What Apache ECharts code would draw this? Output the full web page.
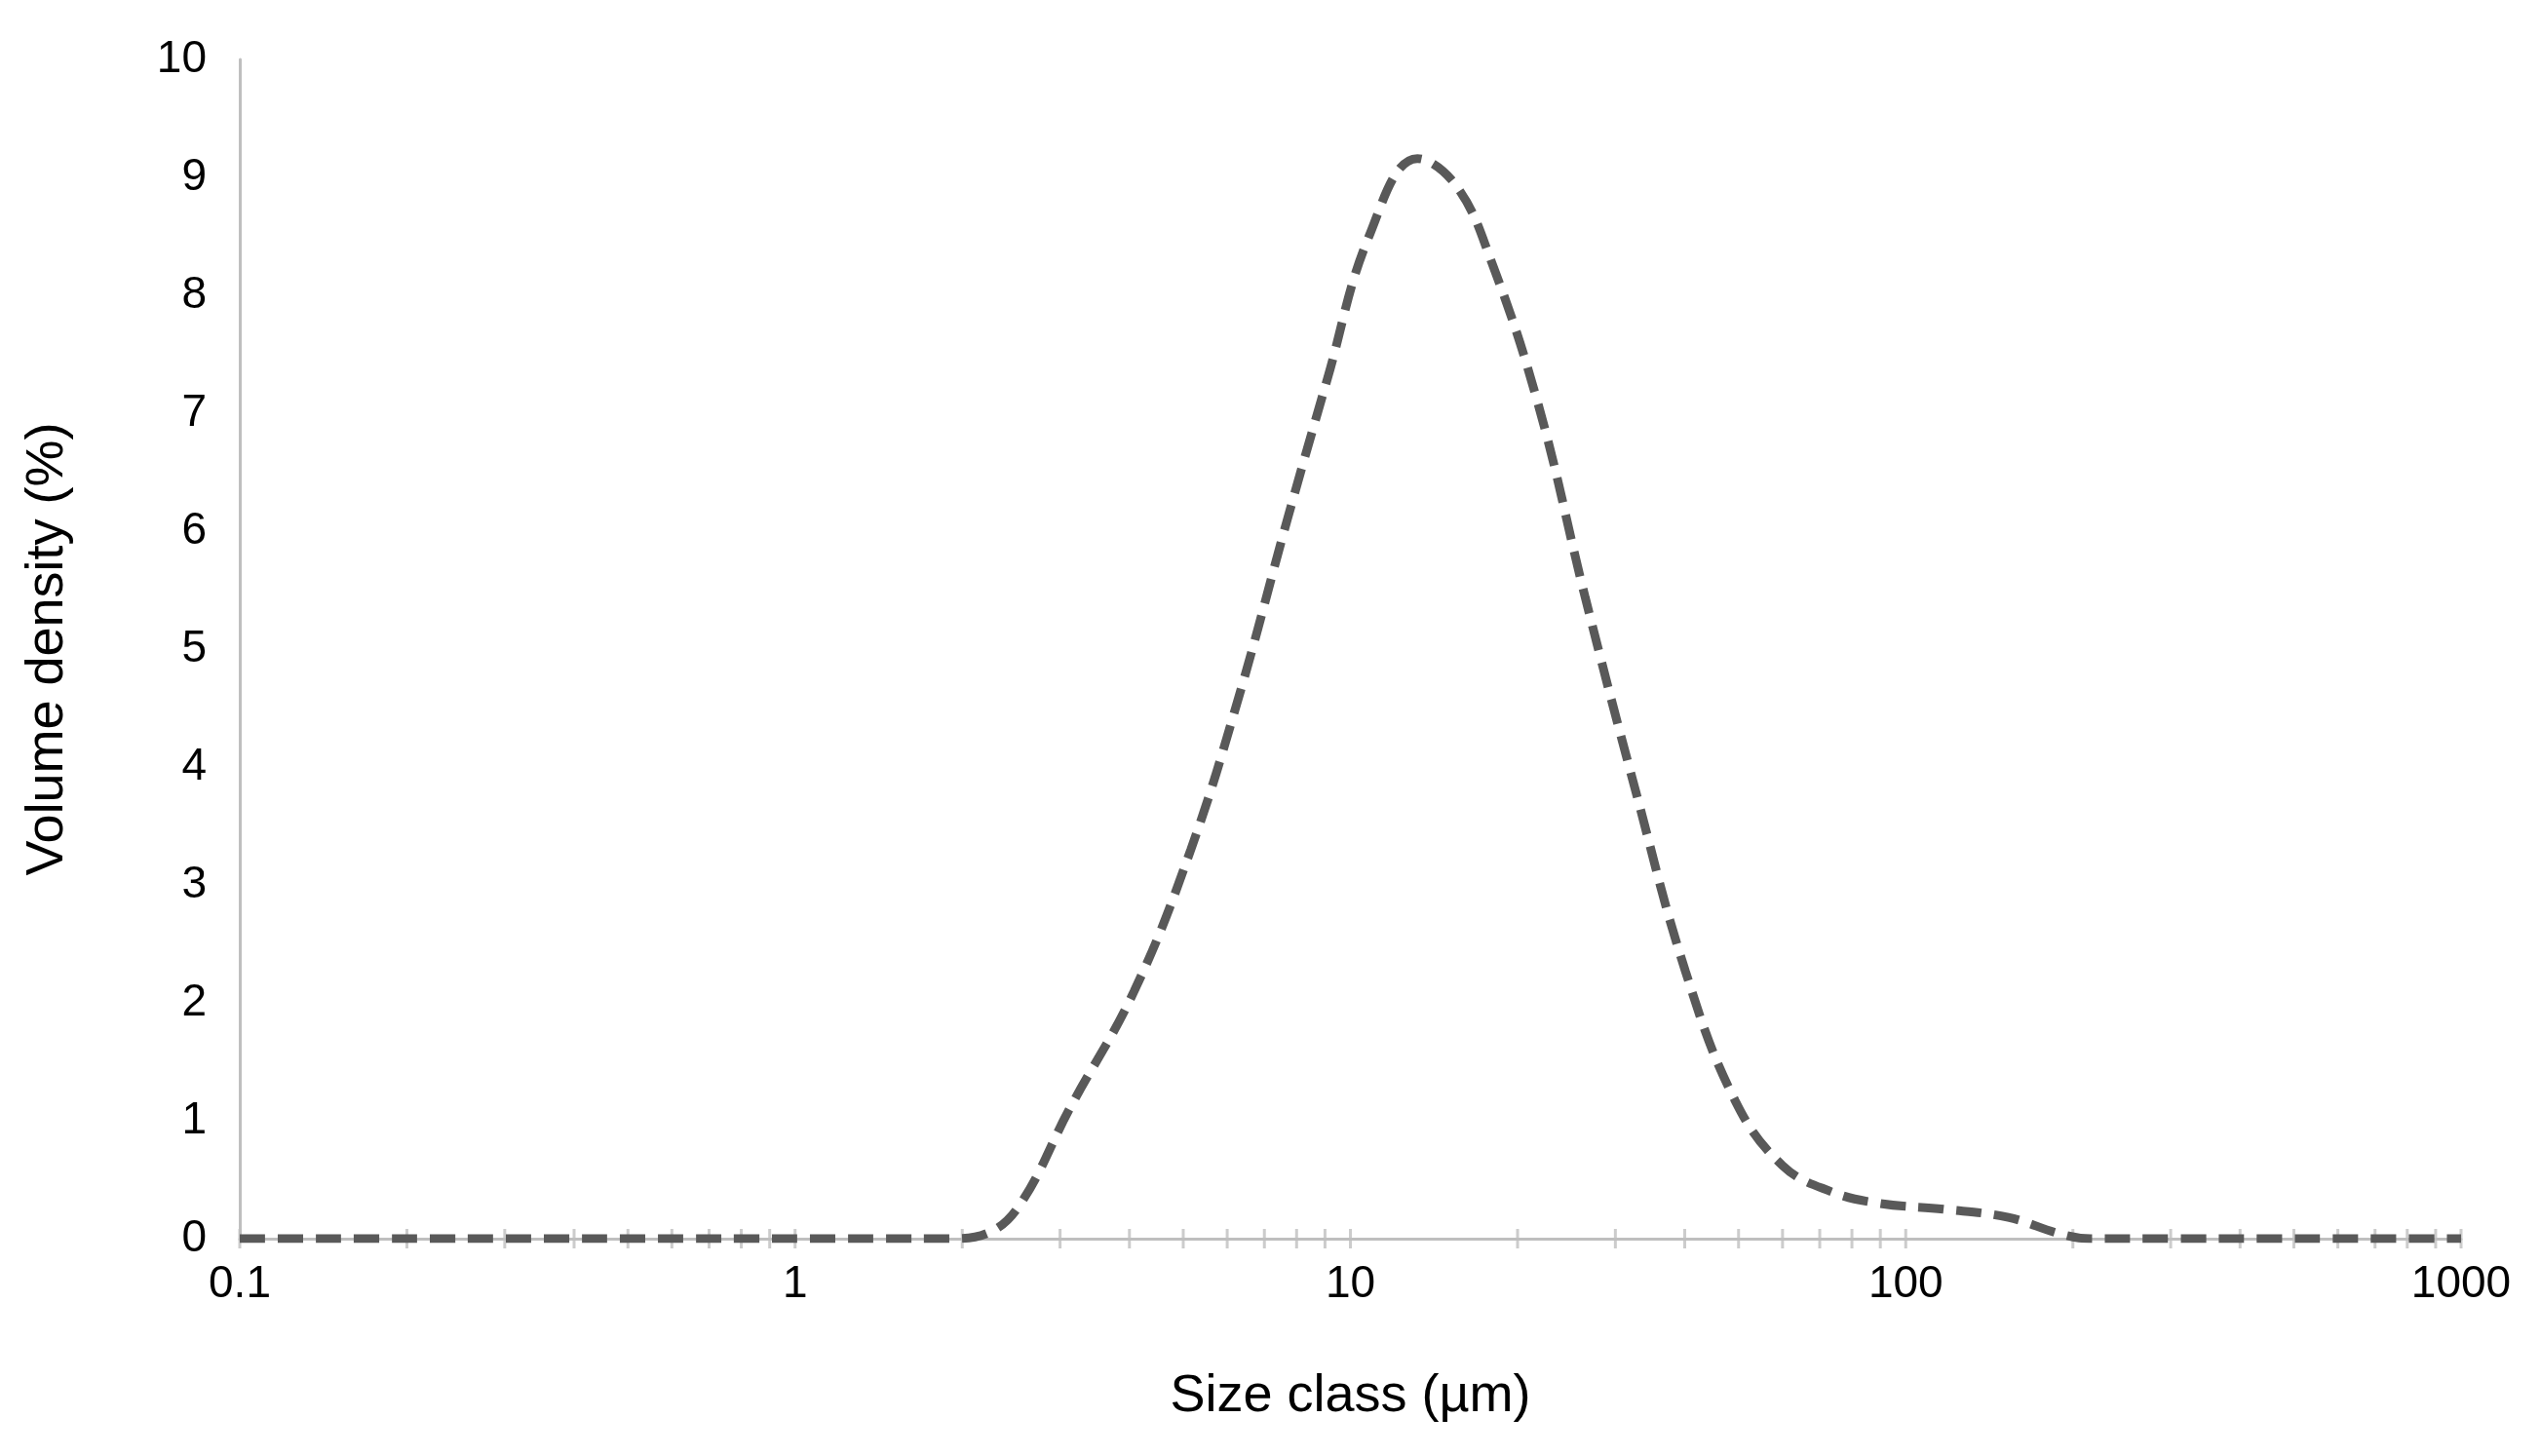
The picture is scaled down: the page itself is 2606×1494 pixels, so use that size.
<!DOCTYPE html>
<html><head><meta charset="utf-8">
<script src="https://cdn.jsdelivr.net/npm/echarts@6/dist/echarts.min.js"></script>
<style>html,body{margin:0;padding:0;background:#fff}#c{width:2606px;height:1494px}</style>
</head><body><div id="c"></div>
<script>
const sizes = [0.1,0.13,0.17,0.22,0.29,0.38,0.5,0.65,0.85,1.1,1.45,1.9,2.23,2.55,3.12,4.08,5.16,6.3,7.7,9.1,10.8,13.2,15.5,17.9,21.8,26.5,32.7,40.1,49.3,60,73.3,89.4,117,153,190,215,300,450,650,1000];
const density = [0,0,0,0,0,0,0,0,0,0,0,0,0.05,0.3,1.1,2.1,3.3,4.6,6.1,7.3,8.5,9.16,8.93,8.3,7.07,5.43,3.78,2.27,1.17,0.62,0.4,0.3,0.25,0.18,0.04,0,0,0,0,0];
const tickValues = [0.1,0.2,0.3,0.4,0.5,0.6,0.7,0.8,0.9,1,2,3,4,5,6,7,8,9,10,20,30,40,50,60,70,80,90,100,200,300,400,500,600,700,800,900,1000];
const font = 'Liberation Sans, Arial, sans-serif';
const chart = echarts.init(document.getElementById('c'));
chart.setOption({
  animation:false,
  grid:{left:246,right:81,top:61,bottom:223},
  xAxis:{type:'log',logBase:10,min:0.1,max:1000,
    name:'Size class (µm)',nameLocation:'middle',nameGap:135,
    nameTextStyle:{fontFamily:font,fontSize:54,color:'#000'},
    axisLine:{lineStyle:{color:'#bfbfbf',width:3}},axisTick:{show:false},
    splitLine:{show:false},
    axisLabel:{fontFamily:font,fontSize:46,color:'#000',margin:24,formatter:v=>String(+v.toPrecision(3))}},
  yAxis:{type:'value',min:0,max:10,interval:1,
    name:'Volume density (%)',nameLocation:'middle',nameGap:170,
    nameTextStyle:{fontFamily:font,fontSize:54,color:'#000'},
    axisLine:{show:true,lineStyle:{color:'#bfbfbf',width:3}},axisTick:{show:false},
    splitLine:{show:false},
    axisLabel:{fontFamily:font,fontSize:46,color:'#000',margin:34}},
  series:[
    {type:'scatter',data:tickValues.map(v=>[v,0]),symbol:'rect',symbolSize:[3,20],
     itemStyle:{color:'#bfbfbf'},silent:true,z:1},
    {type:'line',data:sizes.map((s,i)=>[s,density[i]]),smooth:0.4,showSymbol:false,
     lineStyle:{color:'#595959',width:9,type:[26,13]},z:3}
  ]
});
</script></body></html>
